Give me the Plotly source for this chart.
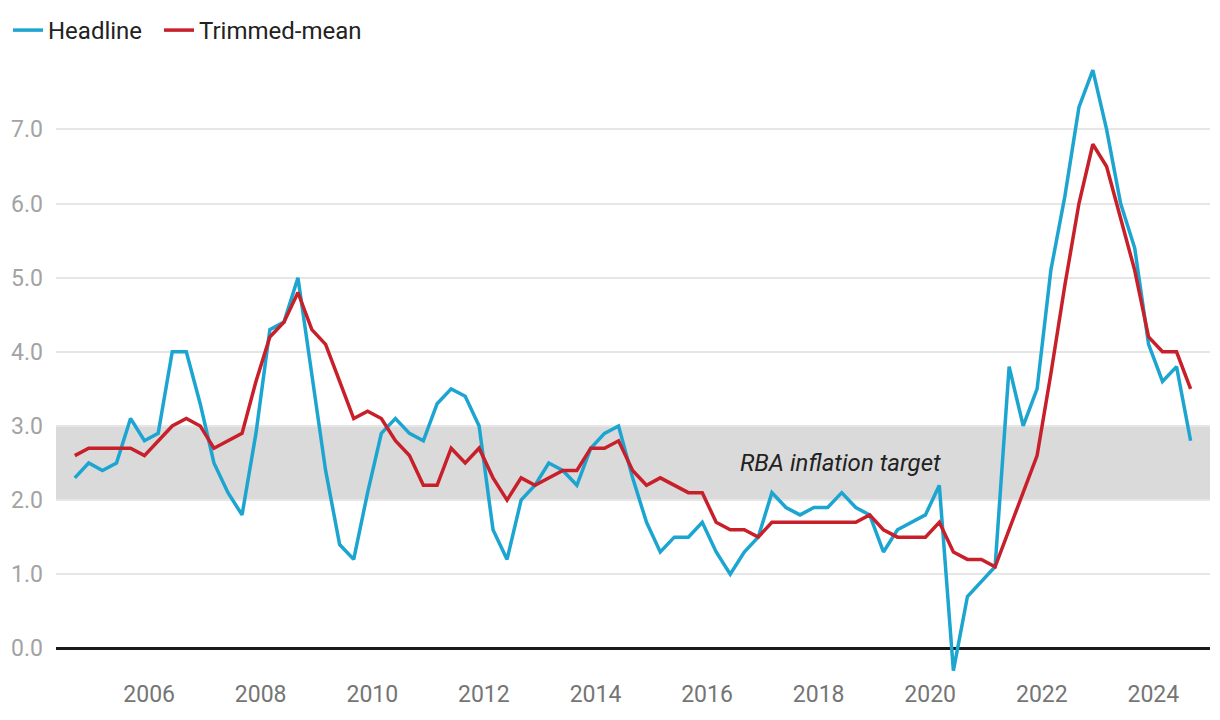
import pandas as pd
import plotly.graph_objects as go

# Quarterly dates, Sep 2004 .. Sep 2024 (81 quarters)
quarters = pd.date_range("2004-09-01", periods=81, freq="3MS")

headline = [
    2.3, 2.5, 2.4, 2.5, 3.1, 2.8, 2.9, 4.0, 4.0, 3.3,
    2.5, 2.1, 1.8, 2.9, 4.3, 4.4, 5.0, 3.7, 2.4, 1.4,
    1.2, 2.1, 2.9, 3.1, 2.9, 2.8, 3.3, 3.5, 3.4, 3.0,
    1.6, 1.2, 2.0, 2.2, 2.5, 2.4, 2.2, 2.7, 2.9, 3.0,
    2.3, 1.7, 1.3, 1.5, 1.5, 1.7, 1.3, 1.0, 1.3, 1.5,
    2.1, 1.9, 1.8, 1.9, 1.9, 2.1, 1.9, 1.8, 1.3, 1.6,
    1.7, 1.8, 2.2, -0.3, 0.7, 0.9, 1.1, 3.8, 3.0, 3.5,
    5.1, 6.1, 7.3, 7.8, 7.0, 6.0, 5.4, 4.1, 3.6, 3.8,
    2.8,
]

trimmed_mean = [
    2.6, 2.7, 2.7, 2.7, 2.7, 2.6, 2.8, 3.0, 3.1, 3.0,
    2.7, 2.8, 2.9, 3.6, 4.2, 4.4, 4.8, 4.3, 4.1, 3.6,
    3.1, 3.2, 3.1, 2.8, 2.6, 2.2, 2.2, 2.7, 2.5, 2.7,
    2.3, 2.0, 2.3, 2.2, 2.3, 2.4, 2.4, 2.7, 2.7, 2.8,
    2.4, 2.2, 2.3, 2.2, 2.1, 2.1, 1.7, 1.6, 1.6, 1.5,
    1.7, 1.7, 1.7, 1.7, 1.7, 1.7, 1.7, 1.8, 1.6, 1.5,
    1.5, 1.5, 1.7, 1.3, 1.2, 1.2, 1.1, 1.6, 2.1, 2.6,
    3.7, 4.9, 6.0, 6.8, 6.5, 5.8, 5.1, 4.2, 4.0, 4.0,
    3.5,
]

target_low, target_high = 2.0, 3.0
target_label = "RBA inflation target"
y_ticks = [0, 1, 2, 3, 4, 5, 6, 7]

BLUE = "#1ca5d0"
RED = "#c8202a"
FONT = "Roboto"
NBSP = "\u00a0"

fig = go.Figure()
fig.add_trace(go.Scatter(x=quarters, y=headline, name="Headline" + NBSP * 2, mode="lines",
                         line=dict(color=BLUE, width=3.5)))
fig.add_trace(go.Scatter(x=quarters, y=trimmed_mean, name="Trimmed-mean", mode="lines",
                         line=dict(color=RED, width=3.5)))

fig.add_shape(type="rect", xref="paper", x0=0, x1=1, yref="y",
              y0=target_low, y1=target_high, fillcolor="#dadada",
              line=dict(width=0), layer="below")

fig.add_annotation(x="2018-05-25", y=(target_low + target_high) / 2,
                   text="<i>" + target_label + "</i>", showarrow=False,
                   font=dict(family=FONT, size=24, color="#222222"),
                   xanchor="center", yanchor="middle")

fig.update_layout(
    width=1220, height=720,
    margin=dict(l=48, r=18, t=51, b=50, autoexpand=False),
    paper_bgcolor="white", plot_bgcolor="white",
    font=dict(family=FONT, size=24, color="#222222"),
    showlegend=True,
    legend=dict(orientation="h", xref="container", yref="container",
                x=0.0, y=1.0, xanchor="left", yanchor="top",
                font=dict(family=FONT, size=24, color="#222222"),
                bgcolor="rgba(0,0,0,0)"),
    xaxis=dict(type="date", range=["2004-05-01", "2025-01-06"],
               tickformat="%Y", dtick="M24", tick0="2006-01-01",
               showgrid=False, zeroline=False, showline=False, ticks="",
               automargin=False,
               tickfont=dict(family=FONT, size=23, color="#757575")),
    yaxis=dict(range=[-0.4, 7.95], tickvals=y_ticks, tickformat=".1f",
               showgrid=True, gridcolor="#e6e6e6", gridwidth=2,
               zeroline=True, zerolinecolor="#1a1a1a", zerolinewidth=3,
               showline=False, ticks="", ticklabelstandoff=12,
               automargin=False,
               tickfont=dict(family=FONT, size=23, color="#a3a3a3")),
)

fig.write_html("out.html")
